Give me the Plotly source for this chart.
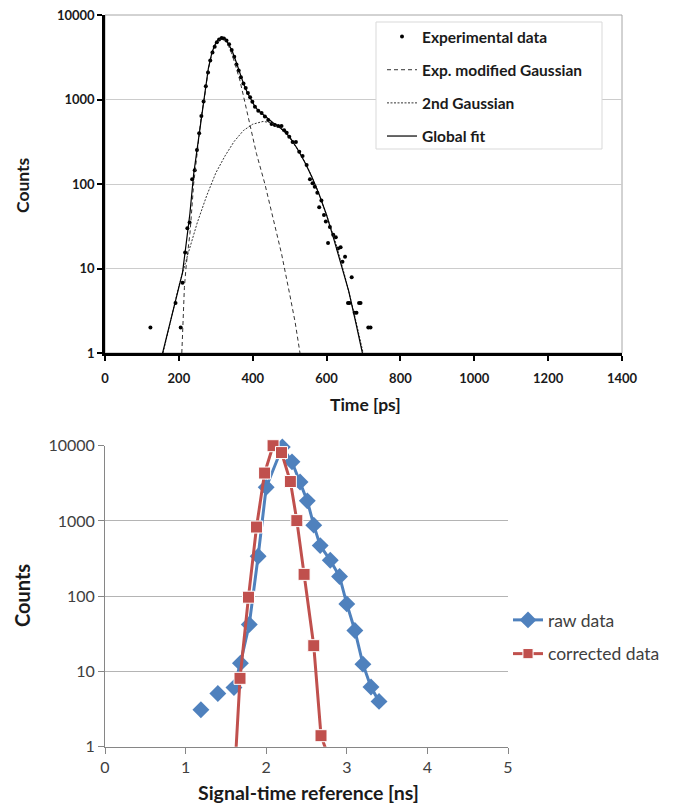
import plotly.graph_objects as go

# page has an 8px body margin; figure sized so page fits 685x812
OFF = 8
FW, FH = 685 - 2 * OFF, 812 - 2 * OFF
FONT = "Lato"


def fx(p):
    return (p - OFF) / FW


def fy(p):
    return 1 - (p - OFF) / FH


# ---------------- top chart: time spectrum ----------------
exp_time = [123, 191, 205, 210, 217, 223, 229, 236, 243, 249, 255, 261, 267, 273, 279, 285, 291, 297,
            303, 309, 316, 322, 329, 336, 343, 350, 356, 362, 368, 375, 381, 387, 393, 399, 406, 415,
            424, 433, 442, 451, 460, 469, 478, 485, 492, 499, 508, 517, 526, 535, 546, 555, 562, 568,
            575, 580, 586, 593, 598, 604, 609, 618, 625, 631, 638, 643, 650, 658, 662, 668, 676, 681,
            688, 692, 713, 719]
exp_counts = [2, 3.9, 2, 6.8, 15.5, 30, 35, 114, 145, 253, 400, 636, 950, 1430, 2090, 2900, 3600, 4200,
              4750, 5130, 5360, 5270, 4980, 4500, 3860, 3200, 2600, 2200, 1830, 1550, 1370, 1190, 1060, 943,
              822, 738, 690, 628, 573, 512, 500, 485, 485, 434, 405, 362, 315, 315, 241, 215, 168, 114,
              102, 93, 79, 53, 64, 43, 36, 20, 31, 25, 23.4, 17.3, 17.8, 12, 13.8, 3.9, 3.9, 7.9, 3, 3,
              3.9, 3.9, 2, 2]

emg_time = [208, 211, 215, 220, 225, 230, 235, 240, 250, 260, 270, 280, 290, 300, 310, 318, 325, 335,
            345, 355, 365, 375, 390, 410, 433, 455, 478, 500, 515, 528]
emg_counts = [1, 2.5, 6, 11, 17, 26, 50, 100, 240, 600, 1100, 2300, 3600, 4600, 5150, 5300, 5100, 4250,
              3350, 2450, 1700, 1100, 570, 230, 100, 40, 15, 5, 2.3, 1]

g2_time = [157, 175, 200, 225, 250, 275, 300, 325, 350, 375, 400, 428, 450, 475, 500, 525, 550, 575,
           600, 625, 650, 675, 699]
g2_counts = [1, 2.2, 6.2, 15, 35, 72, 135, 215, 320, 430, 510, 550, 530, 455, 352, 245, 153, 86,
             43, 20, 8, 2.9, 1]

fit_time = [156, 170, 185, 200, 210, 220, 230, 240, 250, 260, 270, 280, 290, 300, 310, 318, 325, 335,
            345, 355, 365, 375, 385, 395, 405, 415, 425, 440, 455, 470, 485, 500, 520, 540, 560, 580,
            600, 620, 640, 660, 680, 697]
fit_counts = [1, 1.8, 3.3, 6.3, 9, 20, 45, 130, 270, 640, 1150, 2350, 3650, 4700, 5250, 5380, 5200, 4500,
              3700, 2800, 2050, 1550, 1220, 1000, 840, 740, 680, 590, 530, 480, 425, 360, 265, 185, 122, 75,
              43, 22, 11, 5.4, 2.2, 1]

top_x_ticks = [0, 200, 400, 600, 800, 1000, 1200, 1400]
log_ticks = [1, 10, 100, 1000, 10000]
log_tick_text = ["1", "10", "100", "1000", "10000"]

# ---------------- bottom chart: signal-time reference ----------------
raw_x = [1.19, 1.3, 1.4, 1.5, 1.6, 1.68, 1.79, 1.9, 2.0, 2.2, 2.32, 2.42, 2.51, 2.59, 2.67, 2.795,
         2.91, 3.0, 3.1, 3.2, 3.3, 3.4]
raw_y = [3.1, None, 5.1, None, 6.1, 12.9, 42, 340, 2800, 9600, 6100, 3300, 1850, 880, 470, 300,
         183, 79, 35, 12.5, 6.2, 4.0]

corr_x = [1.575, 1.675, 1.78, 1.88, 1.98, 2.085, 2.19, 2.30, 2.38, 2.47, 2.59, 2.68, 2.78]
corr_y = [0.1, 8.1, 97, 830, 4330, 10000, 8100, 3340, 1010, 195, 22, 1.4, 0.7]

bottom_x_ticks = [0, 1, 2, 3, 4, 5]

BLUE = "#4F81BD"
RED = "#C0504D"
INK = "#1a1a1a"

fig = go.Figure()

# top traces
fig.add_trace(go.Scatter(x=exp_time, y=exp_counts, mode="markers", name="Experimental data",
                         marker=dict(color="black", size=4), xaxis="x", yaxis="y",
                         legend="legend", legendgroup="a", legendrank=1))
fig.add_trace(go.Scatter(x=emg_time, y=emg_counts, mode="lines", name="Exp. modified Gaussian",
                         line=dict(color="#333333", width=1, dash="4px,3px"), xaxis="x", yaxis="y",
                         legend="legend", legendgroup="b", legendrank=2))
fig.add_trace(go.Scatter(x=g2_time, y=g2_counts, mode="lines", name="2nd Gaussian",
                         line=dict(color="#333333", width=1, dash="2px,1.5px"), xaxis="x", yaxis="y",
                         legend="legend", legendgroup="c", legendrank=3))
fig.add_trace(go.Scatter(x=fit_time, y=fit_counts, mode="lines", name="Global fit",
                         line=dict(color="black", width=1.2), xaxis="x", yaxis="y",
                         legend="legend", legendgroup="d", legendrank=4))

# bottom traces
fig.add_trace(go.Scatter(x=raw_x, y=raw_y, mode="lines+markers", name="raw data",
                         line=dict(color=BLUE, width=3), connectgaps=False,
                         marker=dict(symbol="diamond", size=13, color=BLUE, opacity=1),
                         cliponaxis=False, xaxis="x2", yaxis="y2",
                         legend="legend2", legendgroup="e", legendrank=1))
corr_sizes = [0] + [12] * (len(corr_x) - 2) + [0]
fig.add_trace(go.Scatter(x=corr_x, y=corr_y, mode="lines+markers", name="corrected data",
                         line=dict(color=RED, width=3),
                         marker=dict(symbol="square", size=corr_sizes, color=RED, opacity=1),
                         cliponaxis=False, xaxis="x2", yaxis="y2",
                         legend="legend2", legendgroup="f", legendrank=2))

bold_tick = dict(family=FONT, size=13, color=INK, weight="bold")
reg_tick = dict(family=FONT, size=16, color="#404040")


def title(text, x, y, size, angle=0):
    return dict(text=text, x=fx(x), y=fy(y), xref="paper", yref="paper", textangle=angle,
                xanchor="center", yanchor="middle", showarrow=False,
                font=dict(family=FONT, size=size, color=INK, weight="bold"))


fig.update_layout(
    width=FW, height=FH,
    margin=dict(l=0, r=0, t=0, b=0),
    paper_bgcolor="white", plot_bgcolor="white",
    font=dict(family=FONT, color=INK),
    xaxis=dict(domain=[fx(105), fx(622)], range=[0, 1400], tickvals=top_x_ticks, anchor="y",
               showgrid=False, zeroline=False, showline=True, linecolor="black", linewidth=3,
               ticks="outside", ticklen=5, tickwidth=2, tickcolor="black", tickfont=bold_tick,
               ticklabelstandoff=6, ticklabeloverflow="allow", automargin=False),
    yaxis=dict(domain=[fy(353), fy(15)], type="log", range=[0, 4], anchor="x",
               tickvals=log_ticks, ticktext=log_tick_text, showgrid=True, gridcolor="#cccccc",
               gridwidth=1, zeroline=False, showline=True, linecolor="black", linewidth=2.5,
               ticks="outside", ticklen=5, tickwidth=2, tickcolor="black", tickfont=bold_tick,
               ticklabeloverflow="allow", automargin=False),
    xaxis2=dict(domain=[fx(105), fx(508)], range=[0, 5], tickvals=bottom_x_ticks, anchor="y2",
                showgrid=False, zeroline=False, showline=True, linecolor="#868686", linewidth=1,
                ticks="outside", ticklen=6, tickcolor="#868686", tickfont=reg_tick,
                ticklabeloverflow="allow", automargin=False),
    yaxis2=dict(domain=[fy(746.7), fy(445.7)], type="log", range=[0, 4], anchor="x2",
                tickvals=log_ticks, ticktext=log_tick_text, showgrid=True, gridcolor="#b4b4b4",
                gridwidth=1, zeroline=False, showline=True, linecolor="#868686", linewidth=1,
                ticks="outside", ticklen=6, tickcolor="#868686", tickfont=reg_tick,
                ticklabeloverflow="allow", automargin=False),
    legend=dict(x=fx(382), y=fy(20), xanchor="left", yanchor="top",
                bgcolor="rgba(0,0,0,0)", borderwidth=0, tracegroupgap=10,
                traceorder="grouped",
                font=dict(family=FONT, size=15.5, color=INK, weight="bold")),
    legend2=dict(x=fx(508), y=fy(602), xanchor="left", yanchor="top",
                 bgcolor="rgba(0,0,0,0)", borderwidth=0, tracegroupgap=8,
                 traceorder="grouped",
                 font=dict(family=FONT, size=17.5, color="#404040")),
    shapes=[
        dict(type="rect", xref="x domain", yref="y domain", x0=0, x1=1, y0=0, y1=1,
             line=dict(color="#a6a6a6", width=1), layer="below"),
        dict(type="rect", xref="paper", yref="paper", x0=fx(376), x1=fx(602),
             y0=fy(149), y1=fy(22), fillcolor="white",
             line=dict(color="#d9d9d9", width=1), layer="above"),
    ],
    annotations=[
        title("Counts", 22, 185, 17.5, -90),
        title("Time [ps]", 366, 404, 17.5),
        title("Counts", 22, 596, 20, -90),
        title("Signal-time reference [ns]", 308, 792, 19.5),
    ],
)

fig.write_html("out.html")
